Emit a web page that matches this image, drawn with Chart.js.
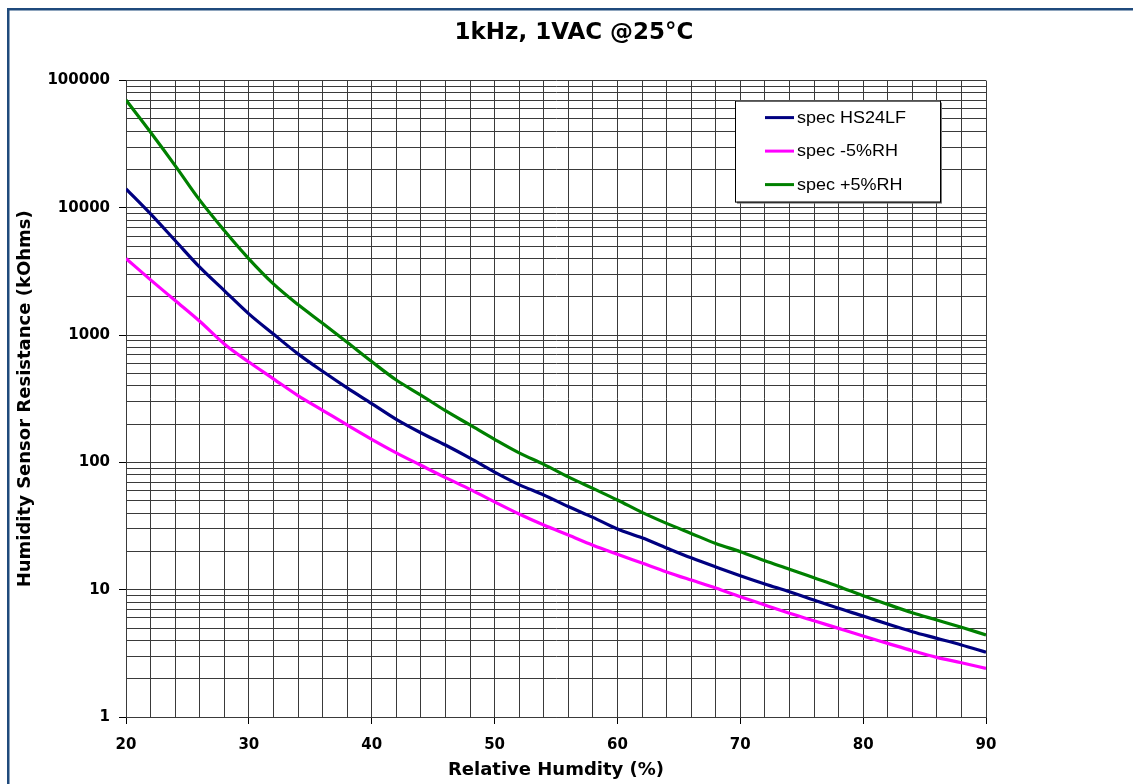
<!DOCTYPE html>
<html>
<head>
<meta charset="utf-8">
<title>1kHz, 1VAC @25°C</title>
<script src="https://cdn.jsdelivr.net/npm/chart.js@4.4.1/dist/chart.umd.min.js"></script>
<style>
    html, body { margin: 0; padding: 0; background: #fff; }
    #wrap { width: 1133px; height: 784px; position: relative; background: #fff; }
</style>
</head>
<body>
<div id="wrap"><canvas id="rhChart"></canvas></div>
<script>
// Relative humidity (%) sample points
const rhValues = [20, 22, 24, 26, 28, 30, 32, 34, 36, 38, 40, 42, 44, 46, 48, 50, 52, 54,
                  56, 58, 60, 62, 64, 66, 68, 70, 72, 74, 76, 78, 80, 82, 84, 86, 88, 90];

// Resistance in kOhms
const specHS24LF = [14100, 8970, 5540, 3420, 2240, 1470, 1020, 713, 520, 385, 290, 218, 171, 137, 108, 84,
                    67, 55.5, 45, 37, 30, 25.6, 21.3, 17.8, 15.1, 12.9, 11.1, 9.65, 8.3, 7.14, 6.21, 5.37,
                    4.68, 4.15, 3.68, 3.23];
const specMinus5 = [4000, 2720, 1870, 1285, 853, 615, 454, 335, 257, 197, 152, 119, 95, 76, 61.5, 49,
                    39.3, 32.2, 26.9, 22.4, 19, 16.2, 13.8, 11.9, 10.3, 8.8, 7.58, 6.53, 5.71, 4.97, 4.33, 3.79,
                    3.32, 2.94, 2.67, 2.41];
const specPlus5 = [70300, 39300, 21500, 11500, 6640, 3980, 2530, 1740, 1240, 880, 620, 444, 338, 255, 197, 152,
                   119, 96.6, 77, 62.5, 50.7, 40.5, 33.2, 27.7, 23.1, 19.9, 16.9, 14.5, 12.4, 10.6, 8.97, 7.67,
                   6.59, 5.78, 5.07, 4.41];

const seriesLabels = ['spec HS24LF', 'spec -5%RH', 'spec +5%RH'];
const seriesColors = ['#000080', '#ff00ff', '#008000'];

// Axis ticks
const xTickLabels = [20, 30, 40, 50, 60, 70, 80, 90];
const yTickLabels = [1, 10, 100, 1000, 10000, 100000];
const yMinorSteps = [2, 3, 4, 5, 6, 7, 8, 9];

const toPoints = (ys) => rhValues.map((x, i) => ({ x: x, y: ys[i] }));

const tickFont = { family: "'DejaVu Sans', Arial, sans-serif", size: 15, weight: 'bold' };
const titleFont = { family: "'DejaVu Sans', Arial, sans-serif", size: 18, weight: 'bold' };
const gridColor = '#3a3a3a';

// Dark blue frame round the whole picture
const outerFrame = {
    id: 'outerFrame',
    beforeDraw(chart) {
        const ctx = chart.ctx;
        ctx.save();
        ctx.fillStyle = '#fff';
        ctx.fillRect(0, 0, chart.width, chart.height);
        ctx.strokeStyle = '#1f4a7c';
        ctx.lineWidth = 2.5;
        ctx.strokeRect(8.25, 9.25, chart.width + 50, chart.height + 50);
        ctx.restore();
    }
};

// Boxed legend inside the plot, top right
const boxLegend = {
    id: 'boxLegend',
    afterDatasetsDraw(chart) {
        const ctx = chart.ctx;
        const area = chart.chartArea;
        const x = area.right - 251, y = area.top + 20, w = 205, h = 101;
        ctx.save();
        ctx.fillStyle = '#777';
        ctx.fillRect(x + 2, y + 2, w, h);
        ctx.fillStyle = '#fff';
        ctx.fillRect(x, y, w, h);
        ctx.strokeStyle = '#000';
        ctx.lineWidth = 1;
        ctx.strokeRect(x + 0.5, y + 0.5, w, h);
        chart.data.datasets.forEach((ds, i) => {
            const ly = y + 17 + i * 33.5;
            ctx.strokeStyle = ds.borderColor;
            ctx.lineWidth = 3;
            ctx.beginPath();
            ctx.moveTo(x + 30, ly);
            ctx.lineTo(x + 59, ly);
            ctx.stroke();
            ctx.save();
            ctx.translate(x + 62, ly + 1);
            ctx.scale(1.2, 1.05);
            ctx.fillStyle = '#000';
            ctx.font = "15px 'Liberation Sans', Arial, sans-serif";
            ctx.textBaseline = 'middle';
            ctx.fillText(ds.label, 0, 0);
            ctx.restore();
        });
        ctx.restore();
    }
};

const ctx = document.getElementById('rhChart').getContext('2d');

new Chart(ctx, {
    type: 'line',
    data: {
        datasets: [specHS24LF, specMinus5, specPlus5].map((ys, i) => ({
            label: seriesLabels[i],
            data: toPoints(ys),
            borderColor: seriesColors[i],
            backgroundColor: seriesColors[i],
            borderWidth: 3.2,
            pointRadius: 0,
            cubicInterpolationMode: 'monotone',
            fill: false
        }))
    },
    options: {
        responsive: true,
        maintainAspectRatio: false,
        animation: false,
        layout: { padding: { left: 15, right: 0, top: 0, bottom: 0 } },
        plugins: {
            legend: { display: false },
            tooltip: { enabled: false },
            title: {
                display: true,
                text: '1kHz, 1VAC @25°C',
                color: '#000',
                font: { family: "'DejaVu Sans', Arial, sans-serif", size: 23, weight: 'bold' },
                padding: { top: 19, bottom: 34 }
            }
        },
        scales: {
            x: {
                type: 'linear',
                min: 20,
                max: 90,
                afterFit(scale) { scale.height = 67; },
                border: { color: gridColor, width: 1 },
                grid: {
                    color: gridColor,
                    lineWidth: 1,
                    tickLength: 7,
                    tickColor: (c) => (c.tick && xTickLabels.includes(c.tick.value)) ? '#000' : 'rgba(0,0,0,0)'
                },
                ticks: {
                    stepSize: 2,
                    autoSkip: false,
                    maxRotation: 0,
                    padding: 12,
                    color: '#000',
                    font: tickFont,
                    callback: (v) => xTickLabels.includes(v) ? String(v) : ''
                },
                title: {
                    display: true,
                    text: 'Relative Humdity (%)',
                    color: '#000',
                    font: titleFont,
                    padding: { top: 0, bottom: 3 }
                }
            },
            y: {
                type: 'logarithmic',
                min: 1,
                max: 100000,
                afterFit(scale) { scale.width = 111; },
                afterBuildTicks(scale) {
                    const ticks = [];
                    yTickLabels.forEach((d, i) => {
                        ticks.push({ value: d });
                        if (i < yTickLabels.length - 1) {
                            yMinorSteps.forEach((m) => ticks.push({ value: d * m }));
                        }
                    });
                    scale.ticks = ticks;
                },
                border: { color: gridColor, width: 1 },
                grid: {
                    color: gridColor,
                    lineWidth: 1,
                    tickLength: 7,
                    tickColor: (c) => (c.tick && yTickLabels.includes(c.tick.value)) ? '#000' : 'rgba(0,0,0,0)'
                },
                ticks: {
                    autoSkip: false,
                    padding: 9,
                    color: '#000',
                    font: tickFont,
                    callback: (v) => yTickLabels.includes(v) ? String(v) : ''
                },
                title: {
                    display: true,
                    text: 'Humidity Sensor Resistance (kOhms)',
                    color: '#000',
                    font: titleFont,
                    padding: { top: 0, bottom: 0 }
                }
            },
            yRight: {
                position: 'right',
                display: true,
                afterFit(scale) { scale.width = 147; },
                border: { display: false },
                grid: { display: false, drawTicks: false },
                ticks: { display: false }
            }
        }
    },
    plugins: [outerFrame, boxLegend]
});
</script>
</body>
</html>
